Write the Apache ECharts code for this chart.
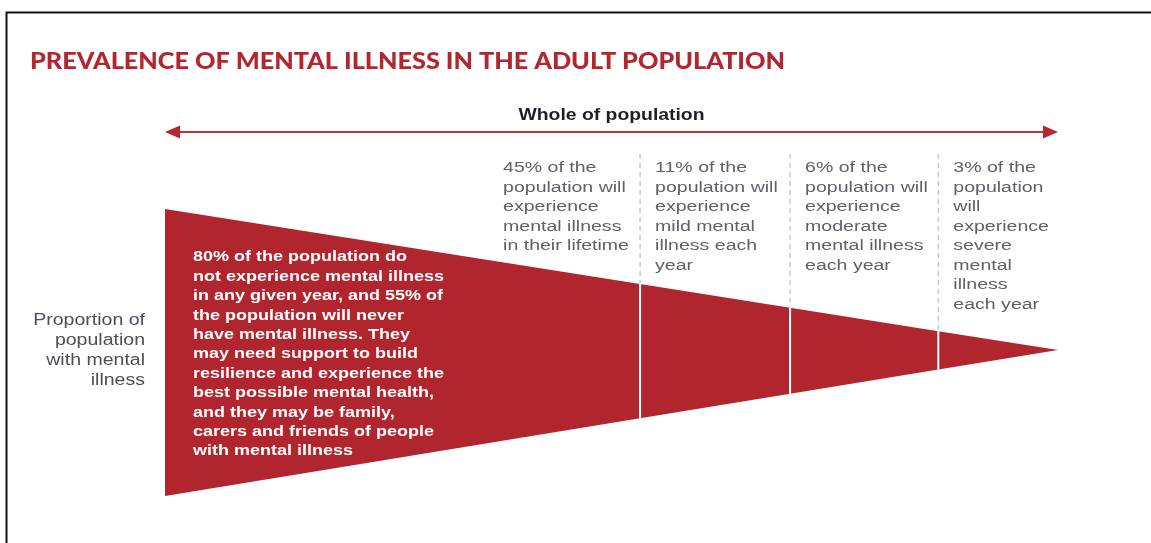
<!DOCTYPE html>
<html><head><meta charset="utf-8">
<script src="https://cdn.jsdelivr.net/npm/echarts@6/dist/echarts.min.js"></script>
<style>html,body{margin:0;padding:0;background:#fff}#c{width:1151px;height:543px}</style>
</head><body><div id="c"></div>
<script>
// ---- data ----
const titleText = 'PREVALENCE OF MENTAL ILLNESS IN THE ADULT POPULATION';
const arrowLabel = 'Whole of population';
const sideLabel = ['Proportion of', 'population', 'with mental', 'illness'];
// segment boundaries along the wedge (0 = wide end, 100 = apex)
const segmentBounds = [0, 53.2, 70.0, 86.6, 100];
const apexOffset = 0.017;
const mainText = [
  '80% of the population do',
  'not experience mental illness',
  'in any given year, and 55% of',
  'the population will never',
  'have mental illness. They',
  'may need support to build',
  'resilience and experience the',
  'best possible mental health,',
  'and they may be family,',
  'carers and friends of people',
  'with mental illness'
];
const columnLabels = [
  ['45% of the', 'population will', 'experience', 'mental illness', 'in their lifetime'],
  ['11% of the', 'population will', 'experience', 'mild mental', 'illness each', 'year'],
  ['6% of the', 'population will', 'experience', 'moderate', 'mental illness', 'each year'],
  ['3% of the', 'population', 'will', 'experience', 'severe', 'mental', 'illness', 'each year']
];

// ---- styles ----
const RED = '#b1252e';
const SX = 1.2;
const FONT = '"Liberation Sans", Arial, sans-serif';

const segData = [];
for (let i = 0; i < segmentBounds.length - 1; i++) segData.push([segmentBounds[i], segmentBounds[i + 1], i]);

function topY(x) { return 1 - (1 - apexOffset) * x / 100; }
function botY(x) { return -1 + (1 + apexOffset) * x / 100; }

function stretchedText(x, y, text, opts, sx) {
  return {
    type: 'text', x: x, y: y, scaleX: sx || SX, originX: 0, originY: 0,
    style: Object.assign({
      text: text, fill: '#5f6068', fontFamily: FONT, fontSize: 15.5,
      lineHeight: 19.5, align: 'left', verticalAlign: 'top'
    }, opts || {})
  };
}

const option = {
  animation: false,
  grid: { left: 165, right: 93, top: 209, bottom: 47 },
  xAxis: { type: 'value', min: 0, max: 100, show: false },
  yAxis: { type: 'value', min: -1, max: 1, show: false },
  graphic: [
    { type: 'polyline', shape: { points: [[6.5, 543], [6.5, 12.5], [1151, 12.5]] },
      style: { stroke: '#111', lineWidth: 2, fill: null } },
    { type: 'text', x: 30, y: 50.5, scaleX: 1.147,
      style: { text: titleText, fill: '#b2262f', fontFamily: 'Lato', fontWeight: 900, fontSize: 22 } }
  ],
  series: [
    {
      type: 'custom', coordinateSystem: 'cartesian2d', data: segData,
      renderItem: function (params, api) {
        const x0 = api.value(0), x1 = api.value(1), idx = api.value(2);
        const pts = [api.coord([x0, topY(x0)]), api.coord([x1, topY(x1)]),
                     api.coord([x1, botY(x1)]), api.coord([x0, botY(x0)])];
        const children = [{ type: 'polygon', shape: { points: pts }, style: { fill: RED } }];
        if (idx > 0) {
          const t = api.coord([x0, topY(x0)]);
          const b = api.coord([x0, botY(x0)]);
          children.push({ type: 'line', shape: { x1: t[0], y1: t[1], x2: b[0], y2: b[1] },
            style: { stroke: '#fff', lineWidth: 2 } });
          children.push({ type: 'line', shape: { x1: t[0], y1: 154, x2: t[0], y2: t[1] - 1 },
            style: { stroke: '#c8c8c8', lineWidth: 1.5, lineDash: [5, 4] } });
          children.push(stretchedText(t[0] + 15, 158, columnLabels[idx].join('\n'), null, 1.26));
          if (idx === 1) {
            children.push(stretchedText(t[0] - 137, 158, columnLabels[0].join('\n'), null, 1.26));
          }
        } else {
          const l = api.coord([x0, 0]);
          children.push(stretchedText(l[0] + 28, 247.5, mainText.join('\n'),
            { fill: '#ffffff', fontWeight: 700, fontSize: 15, lineHeight: 19.4 }));
          children.push({
            type: 'text', x: l[0] - 20, y: 311, scaleX: 1.22, originX: 0, originY: 0,
            style: { text: sideLabel.join('\n'), fill: '#4d4e58', fontFamily: FONT, fontSize: 16,
              lineHeight: 20, align: 'right', verticalAlign: 'top' }
          });
        }
        return { type: 'group', children: children };
      }
    },
    {
      type: 'custom', coordinateSystem: 'cartesian2d', data: [[0, 100]],
      renderItem: function (params, api) {
        const a = api.coord([api.value(0), 0]);
        const b = api.coord([api.value(1), 0]);
        const y = 132, L = 15, H = 6.5;
        return {
          type: 'group', children: [
            { type: 'line', shape: { x1: a[0] + L - 2, y1: y, x2: b[0] - L + 2, y2: y },
              style: { stroke: '#c0303a', lineWidth: 2 } },
            { type: 'polygon', shape: { points: [[a[0], y], [a[0] + L, y - H], [a[0] + L, y + H]] },
              style: { fill: '#b8262f' } },
            { type: 'polygon', shape: { points: [[b[0], y], [b[0] - L, y - H], [b[0] - L, y + H]] },
              style: { fill: '#b8262f' } },
            { type: 'text', x: (a[0] + b[0]) / 2, y: 116, scaleX: 1.21,
              style: { text: arrowLabel, fill: '#1e1e2a', fontFamily: FONT, fontSize: 16,
                fontWeight: 700, align: 'center', verticalAlign: 'middle' } }
          ]
        };
      }
    }
  ]
};
const chart = echarts.init(document.getElementById('c'), null, { renderer: 'canvas' });
chart.setOption(option);
</script></body></html>
